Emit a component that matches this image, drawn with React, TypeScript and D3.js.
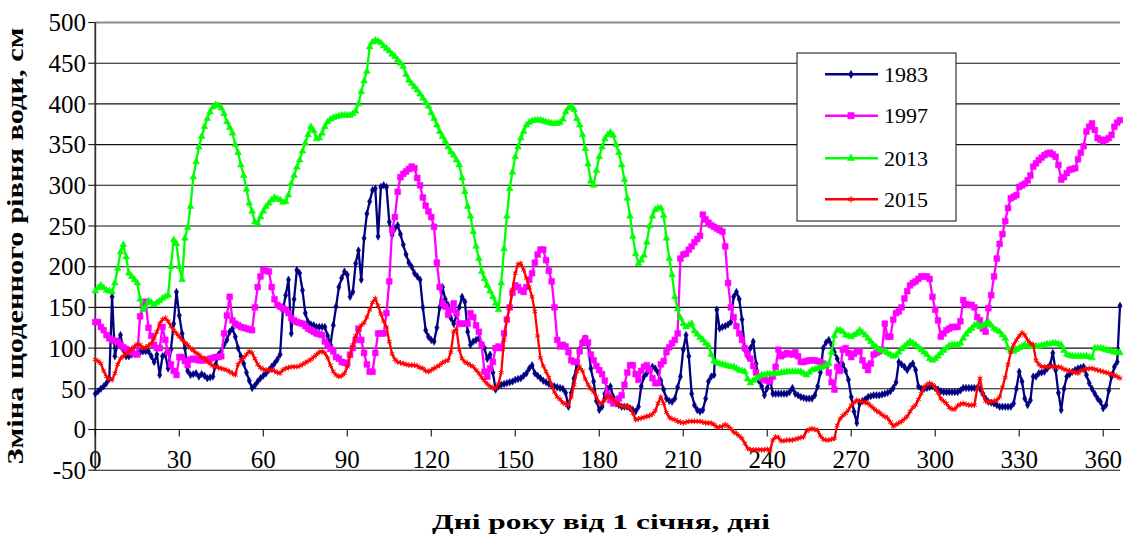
import React from "react";
import * as d3 from "d3";

// Daily water-level change, cm, indexed by day of year (0..366)
const series1983: number[] = [
  44,47,50,53,57,62,163,90,106,116,
  98,90,90,92,93,94,95,96,96,96,
  90,83,92,67,90,92,75,98,130,169,
  140,118,100,72,67,68,69,65,68,66,
  63,64,65,80,92,96,104,110,120,124,
  114,100,90,81,70,60,51,54,59,63,
  66,69,73,77,81,86,92,147,165,184,
  118,160,196,192,171,143,132,129,128,126,
  126,126,126,115,104,128,151,175,186,194,
  190,163,169,204,220,184,235,265,280,294,
  296,237,298,300,298,255,239,247,251,240,
  227,215,205,200,192,188,184,150,122,114,
  110,108,125,150,175,160,153,137,130,140,
  150,163,157,120,104,108,110,112,105,100,
  87,92,70,49,53,55,56,57,58,59,
  61,62,63,66,69,75,79,69,66,63,
  60,58,56,54,53,52,51,50,45,28,
  45,63,80,98,108,112,104,75,59,35,
  24,28,44,50,53,40,32,30,28,28,
  28,26,24,22,28,53,65,69,73,77,
  75,70,60,49,38,35,34,38,52,65,
  98,116,90,44,30,24,22,24,38,59,
  65,67,147,124,126,127,129,132,163,169,
  160,135,98,90,100,108,81,60,53,42,
  51,61,44,44,44,44,44,44,46,51,
  44,42,40,39,38,38,38,42,53,70,
  100,107,110,104,95,87,78,80,72,61,
  40,22,8,32,35,37,40,41,42,42,
  42,43,44,45,47,51,58,83,80,77,
  73,78,81,73,53,50,50,51,52,53,
  51,49,47,46,46,46,46,46,46,48,
  51,51,51,51,51,51,50,44,38,34,
  33,32,30,28,28,28,28,28,32,50,
  71,59,38,30,36,65,65,69,70,71,
  75,79,94,73,45,24,50,65,68,71,
  73,75,76,77,67,57,50,44,38,34,
  26,30,48,65,77,83,152,
];

const series1997: number[] = [
  132,132,126,122,116,112,110,109,108,104,
  101,99,97,95,93,92,139,152,157,125,
  115,104,100,100,126,110,95,80,72,67,
  89,89,84,79,86,87,86,85,85,85,
  86,87,88,89,89,90,118,140,163,134,
  130,128,126,125,124,123,122,150,175,188,
  196,195,194,175,160,153,151,149,147,143,
  137,134,132,131,130,127,124,122,120,118,
  117,116,108,103,99,96,89,87,83,82,
  81,92,100,110,124,110,94,80,71,71,
  94,118,118,118,143,182,245,261,292,310,
  314,317,320,323,321,309,300,285,275,268,
  261,249,205,175,155,151,141,147,155,143,
  130,130,130,130,143,138,128,120,104,71,
  65,75,83,100,102,100,118,135,150,168,
  177,175,171,169,175,184,192,205,215,221,
  221,208,195,182,150,110,102,104,102,95,
  85,83,83,96,106,112,107,92,85,78,
  73,68,60,44,36,32,34,38,42,55,
  70,79,79,68,61,72,77,79,73,63,
  57,57,80,84,95,101,106,110,118,210,
  215,216,221,225,230,234,238,264,258,254,
  251,249,247,245,243,225,180,150,138,127,
  118,110,100,93,87,78,70,65,63,61,
  60,59,65,77,98,90,92,94,93,92,
  95,90,83,83,84,85,85,85,84,83,
  81,79,70,58,49,77,72,98,100,94,
  89,93,96,96,85,78,73,81,92,94,
  96,98,130,114,114,135,143,145,150,161,
  170,177,180,182,185,188,188,188,185,163,
  147,134,114,118,122,124,126,126,126,133,
  159,154,153,153,150,138,134,124,120,149,
  165,188,210,228,240,256,272,284,286,288,
  298,300,302,306,312,323,327,331,334,337,
  339,340,338,335,325,307,310,315,319,320,
  321,332,340,348,366,372,376,368,358,356,
  354,356,358,362,372,377,380,
];

const series2013: number[] = [
  170,174,177,174,171,170,169,180,198,218,
  227,212,192,188,184,180,160,147,151,158,
  156,153,156,158,161,163,165,200,233,228,
  200,184,235,248,274,310,329,347,360,372,
  382,390,396,399,398,395,388,378,371,364,
  350,340,325,312,295,278,268,255,253,261,
  268,274,278,282,285,283,282,279,280,288,
  302,312,322,331,342,352,362,372,367,357,
  358,364,372,378,381,383,384,385,386,386,
  386,386,388,391,400,415,428,440,470,476,
  478,477,475,471,468,465,461,458,454,450,
  446,436,429,425,421,417,412,407,402,397,
  389,382,374,366,360,354,347,341,337,331,
  325,309,292,274,262,243,225,210,194,185,
  177,170,163,155,147,180,222,262,296,316,
  335,347,358,366,374,377,379,380,380,380,
  379,378,377,376,376,376,377,381,390,395,
  397,393,382,374,362,345,326,305,300,318,
  335,347,357,362,365,361,350,340,325,307,
  284,262,237,216,204,208,214,230,250,262,
  270,272,272,263,235,210,190,163,148,137,
  130,126,128,130,121,117,113,110,106,103,
  92,84,82,81,80,79,78,77,77,75,
  73,72,71,62,57,60,63,65,67,67,
  68,68,68,69,69,70,70,71,71,71,
  71,71,71,69,67,70,73,74,75,76,
  77,79,81,95,115,122,122,120,116,115,
  114,116,118,122,119,116,112,108,104,101,
  98,97,96,94,92,90,91,95,99,102,
  105,108,106,104,101,98,95,92,87,85,
  87,90,94,97,100,103,104,104,104,106,
  112,117,121,124,128,130,126,128,130,132,
  128,124,122,120,116,112,100,97,96,98,
  100,102,104,103,102,102,102,102,103,104,
  105,105,106,106,105,104,97,92,91,90,
  90,90,90,90,90,89,88,100,100,100,
  99,98,97,96,95,95,94,
];

const series2015: number[] = [
  86,84,81,72,65,62,61,69,80,87,
  90,93,96,99,102,105,104,100,101,103,
  106,112,120,130,135,137,133,127,122,118,
  114,110,107,104,100,97,94,92,89,87,
  84,81,78,77,76,75,74,73,71,69,
  67,80,85,88,92,96,94,87,80,76,
  74,73,73,73,72,70,69,73,75,76,
  77,77,77,78,80,82,84,86,89,92,
  95,96,94,88,79,71,67,65,66,69,
  77,91,104,115,122,128,131,138,147,156,
  161,152,142,133,126,108,93,86,83,82,
  81,80,79,79,79,78,76,75,72,71,
  73,75,77,79,82,84,85,95,120,124,
  98,87,83,81,79,77,73,69,64,60,
  56,53,51,51,56,70,110,135,150,172,
  192,203,204,196,186,175,163,145,115,88,
  78,71,64,55,46,40,37,33,31,30,
  40,55,71,77,72,62,55,50,46,40,
  33,32,36,41,40,37,33,30,29,28,
  28,27,20,12,13,14,15,16,17,19,
  23,32,40,32,21,15,13,12,10,9,
  8,9,10,10,10,10,10,9,8,8,
  8,6,3,3,4,6,4,1,-3,-5,
  -8,-11,-17,-23,-25,-25,-25,-25,-25,-25,
  -24,-26,-13,-9,-10,-14,-14,-13,-13,-13,
  -12,-11,-10,-9,-2,0,1,0,-1,-8,
  -12,-13,-13,-12,-11,5,13,17,20,24,
  30,33,36,35,34,33,32,29,26,23,
  21,18,16,14,9,4,6,8,10,13,
  16,22,27,30,37,44,52,55,57,55,
  51,45,38,35,32,27,25,25,29,31,
  32,31,30,30,30,50,63,44,35,34,
  34,35,36,40,52,64,80,95,104,110,
  115,119,116,110,106,104,85,80,77,77,
  77,77,77,77,77,76,74,73,72,71,
  70,69,72,73,74,75,75,74,73,72,
  71,70,69,68,67,65,63,
];

const seriesNames = ["1983", "1997", "2013", "2015"];
const xTicks = [0, 30, 60, 90, 120, 150, 180, 210, 240, 270, 300, 330, 360];
const yTicks = [-50, 0, 50, 100, 150, 200, 250, 300, 350, 400, 450, 500];

const yTitle = "Зміна щоденного рівня води, см";
const xTitle = "Дні року від 1 січня, дні";

const W = 1123;
const H = 535;
const FONT = "'Liberation Serif', 'Times New Roman', serif";

type Style = {
  color: string;
  symbol: d3.SymbolType;
  size: number;
  filled: boolean;
};

const styles: Style[] = [
  { color: "#000080", symbol: d3.symbolDiamond, size: 16, filled: true },
  { color: "#FF00FF", symbol: d3.symbolSquare, size: 34, filled: true },
  { color: "#00FF00", symbol: d3.symbolTriangle, size: 20, filled: true },
  { color: "#FF0000", symbol: (d3 as any).symbolAsterisk ?? d3.symbolTimes, size: 22, filled: false },
];

const allSeries = [series1983, series1997, series2013, series2015];

export default function App() {
  const x = d3.scaleLinear().domain([0, 366]).range([95.3, 1120]);
  const y = d3.scaleLinear().domain([-50, 500]).range([470.2, 22.5]);

  const line = d3
    .line<number>()
    .x((_, i) => x(i))
    .y((v) => y(v));

  const legendX = 797;
  const legendY = 53;
  const legendRows = [74.3, 115.7, 158.3, 199.3];

  return (
    <svg
      width={W}
      height={H}
      style={{ position: "absolute", left: 0, top: 0, background: "#fff" }}
      fontFamily={FONT}
    >
      <rect x={0} y={0} width={W} height={H} fill="#fff" />

      {/* horizontal gridlines */}
      {yTicks.map((v) => (
        <line
          key={"g" + v}
          x1={x(0)}
          x2={x(366)}
          y1={y(v)}
          y2={y(v)}
          stroke={v === 500 ? "#888" : "#111"}
          strokeWidth={v === 500 ? 2 : 1.1}
        />
      ))}

      {/* y axis */}
      <line x1={x(0)} x2={x(0)} y1={y(-50)} y2={y(500)} stroke="#333" strokeWidth={1.8} />
      {yTicks.map((v) => (
        <g key={"yt" + v}>
          <line x1={x(0) - 7} x2={x(0)} y1={y(v)} y2={y(v)} stroke="#111" strokeWidth={1.1} />
          <text
            x={86}
            y={y(v)}
            dy="0.35em"
            textAnchor="end"
            fontSize={25}
            fill="#000"
          >
            {v}
          </text>
        </g>
      ))}

      {/* x axis along zero */}
      <line x1={x(0)} x2={x(366)} y1={y(0)} y2={y(0)} stroke="#111" strokeWidth={1.2} />
      {xTicks.map((d) => (
        <g key={"xt" + d}>
          <line x1={x(d)} x2={x(d)} y1={y(0)} y2={y(0) + 7} stroke="#111" strokeWidth={1.1} />
          <text x={x(d)} y={468} textAnchor="middle" fontSize={25} fill="#000">
            {d}
          </text>
        </g>
      ))}

      {/* series */}
      {allSeries.map((data, si) => {
        const st = styles[si];
        const sym = d3.symbol(st.symbol, st.size)() as string;
        return (
          <g key={"s" + si}>
            <path d={line(data) as string} fill="none" stroke={st.color} strokeWidth={2.3} strokeLinejoin="round" />
            {data.map((v, i) => (
              <path
                key={i}
                d={sym}
                transform={`translate(${x(i)},${y(v)})`}
                fill={st.filled ? st.color : "none"}
                stroke={st.color}
                strokeWidth={st.filled ? 0.5 : 1}
              />
            ))}
          </g>
        );
      })}

      {/* legend */}
      <rect x={legendX} y={legendY} width={159} height={168} fill="#fff" stroke="#333" strokeWidth={1.2} />
      {seriesNames.map((name, i) => {
        const st = styles[i];
        const sym = d3.symbol(st.symbol, st.size * 1.2)() as string;
        const ly = legendRows[i];
        return (
          <g key={"l" + name}>
            <line x1={825} x2={878} y1={ly} y2={ly} stroke={st.color} strokeWidth={2.5} />
            <path
              d={sym}
              transform={`translate(851,${ly})`}
              fill={st.filled ? st.color : "none"}
              stroke={st.color}
              strokeWidth={st.filled ? 0.5 : 1.2}
            />
            <text x={884} y={ly} dy="0.35em" fontSize={22} fill="#000">
              {name}
            </text>
          </g>
        );
      })}

      {/* axis titles */}
      <text
        transform="translate(23,246) rotate(-90)"
        textAnchor="middle"
        fontSize={23}
        fontWeight="bold"
        fill="#000"
        textLength={437}
        lengthAdjust="spacingAndGlyphs"
      >
        {yTitle}
      </text>
      <text
        x={601}
        y={529}
        textAnchor="middle"
        fontSize={22}
        fontWeight="bold"
        fill="#000"
        textLength={338}
        lengthAdjust="spacingAndGlyphs"
      >
        {xTitle}
      </text>
    </svg>
  );
}
